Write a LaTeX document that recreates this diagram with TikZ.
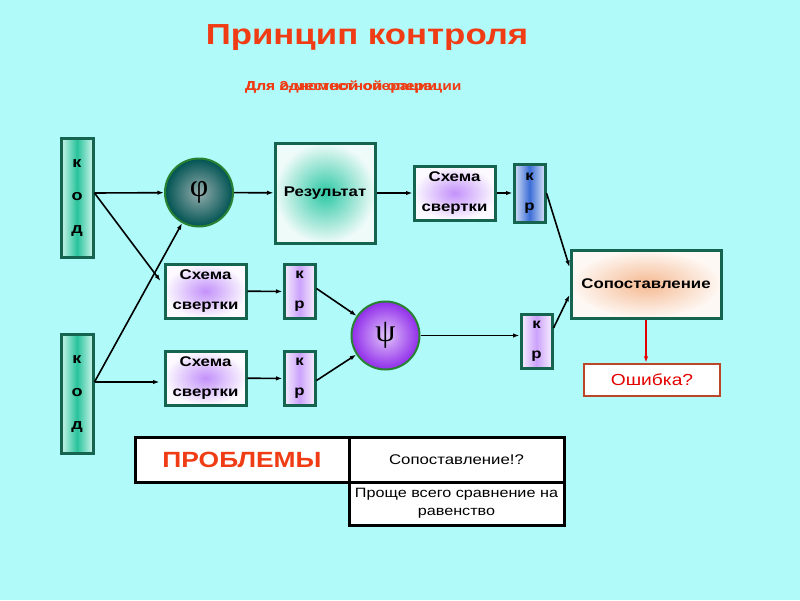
\documentclass[tikz,border=0pt]{standalone}
\usepackage{fontspec}
\usetikzlibrary{arrows.meta}
\setmainfont{Liberation Sans}[FakeStretch=1.2]
\newfontfamily\greekfont{Liberation Serif}
\definecolor{bgcyan}{RGB}{176,250,250}
\definecolor{titlered}{RGB}{240,60,20}
\definecolor{boxline}{RGB}{20,100,80}
\definecolor{ballline}{RGB}{40,130,50}
\definecolor{errline}{RGB}{190,70,40}
\definecolor{kodteal}{RGB}{40,195,155}
\definecolor{kodpale}{RGB}{205,245,235}
\definecolor{resteal}{RGB}{45,200,165}
\definecolor{lavender}{RGB}{195,145,250}
\definecolor{krblue}{RGB}{60,110,215}
\definecolor{peach}{RGB}{245,185,145}
\definecolor{psiviolet}{RGB}{145,45,235}
\begin{document}
\begin{tikzpicture}[x=1pt, y=-1pt,
        kodbox/.style = {draw=boxline, line width=3pt, inner sep=0pt,
            minimum width=32pt, minimum height=119pt, align=center,
            left color=kodpale, right color=kodpale, middle color=kodteal,
            font=\bfseries\fontsize{15}{33}\selectfont},
        krbox/.style = {draw=boxline, line width=3pt, inner sep=0pt,
            minimum width=31pt, minimum height=54pt, align=center,
            left color=white!85!lavender, right color=white!85!lavender, middle color=lavender!85,
            font=\bfseries\fontsize{14}{30}\selectfont},
        schbox/.style = {draw=boxline, line width=3pt, inner sep=0pt,
            minimum width=81pt, minimum height=54pt, align=center,
            inner color=lavender, outer color=white!95!lavender,
            font=\bfseries\fontsize{14}{30}\selectfont},
        ball/.style = {circle, draw=ballline, line width=2pt, inner sep=0pt,
            minimum size=68pt, font=\greekfont\fontsize{32}{32}\selectfont},
        cell/.style = {draw=black, line width=3pt, fill=white, inner sep=0pt,
            align=center},
        arr/.style = {-{Latex[length=6.5pt,width=4.5pt]}, line width=1.6pt}
    ]
    % background
    \fill [bgcyan] (0,0) rectangle (800,600);
    \useasboundingbox (0,0) rectangle (800,600);
    % Titles
    \node [text=titlered, font=\bfseries\fontsize{29}{29}\selectfont] (title) at (367,38) {Принцип контроля};
    \node [text=titlered, anchor=west, inner sep=0pt, font=\bfseries\fontsize{13}{13}\selectfont] (sub1) at (245,87) {Для одноместной операции};
    \node [text=titlered, anchor=west, inner sep=0pt, font=\bfseries\fontsize{13}{13}\selectfont] (sub2) at (245,87) {Для 2-местной операции};
    % Inputs
    \node [kodbox] (kod1) at (77,198) {к\\о\\д};
    \node [kodbox] (kod2) at (77,394) {к\\о\\д};
    \coordinate (k1) at ([yshift=5pt]kod1.east);
    \coordinate (k2) at ([yshift=12pt]kod2.east);
    % Upper branch
    \node [ball, inner color=white!65!teal!55!gray, outer color=teal!65!black] (phi) at (199,192.5) {φ};
    \node [draw=boxline, line width=3pt, minimum width=100pt, minimum height=100pt,
        inner color=resteal, outer color=white!92!resteal,
        font=\bfseries\fontsize{14}{14}\selectfont] (res) at (325,193) {Результат};
    \node [schbox] (sch1) at (454.5,193) {Схема\\свертки};
    \node [krbox, left color=white!80!krblue, right color=white!80!krblue, middle color=krblue,
        minimum height=58pt] (kr1) at (529.5,193) {к\\р};
    % Lower branch
    \node [schbox] (sch2) at (205.5,291) {Схема\\свертки};
    \node [krbox] (kr2) at (299.5,291.5) {к\\р};
    \node [schbox] (sch3) at (205.5,378) {Схема\\свертки};
    \node [krbox] (kr3) at (299.5,378.5) {к\\р};
    \node [ball, inner color=white!72!psiviolet, outer color=psiviolet] (psi) at (385.5,335.5) {ψ};
    \node [krbox] (kr4) at (536.5,341) {к\\р};
    % Comparison
    \node [draw=boxline, line width=3pt, minimum width=150pt, minimum height=68pt,
        inner color=peach, outer color=white!90!peach,
        font=\bfseries\fontsize{14}{14}\selectfont] (cmp) at (646,284) {Сопоставление};
    \node [draw=errline, line width=2.5pt, fill=white, minimum width=136pt, minimum height=32pt,
        text=red!90!black, font=\fontsize{16}{16}\selectfont] (err) at (652,380) {Ошибка?};
    % Connectors
    \draw [arr] (k1) -- (phi);
    \draw [arr, shorten >=5pt] (k1) -- ([yshift=6pt]sch2.west);
    \draw [arr] (k2) -- (phi);
    \draw [arr, shorten >=4pt] (k2) -- (sch3.west |- k2);
    \draw [arr] (phi) -- (res);
    \draw [arr] (res) -- (sch1);
    \draw [arr] (sch1) -- (kr1);
    \draw [arr] (kr1.east) -- ([yshift=17pt]cmp.west);
    \draw [arr] (sch2) -- (kr2);
    \draw [arr] ([yshift=3pt]kr2.east) -- (psi);
    \draw [arr] ([yshift=-2pt]kr3.east) -- (psi);
    \draw [arr] (sch3) -- (kr3);
    \draw [arr] (psi) -- (kr4.west |- psi);
    \draw [arr] ([yshift=13pt]kr4.east) -- ([yshift=-11pt]cmp.west);
    \draw [arr, red!90!black] (cmp.south) -- (cmp.south |- err.north);
    % Problems table
    \node [cell, minimum width=214pt, minimum height=45pt, text=titlered,
        font=\bfseries\fontsize{22}{22}\selectfont] (prob) at (242,459.5) {ПРОБЛЕМЫ};
    \node [cell, minimum width=215pt, minimum height=45pt,
        font=\fontsize{14}{14}\selectfont] (cmpq) at (456.5,459.5) {Сопоставление!?};
    \node [cell, minimum width=215pt, minimum height=43pt,
        font=\fontsize{13.5}{18}\selectfont] (easy) at (456.5,503.5) {Проще всего сравнение на\\равенство};
\end{tikzpicture}
\end{document}
